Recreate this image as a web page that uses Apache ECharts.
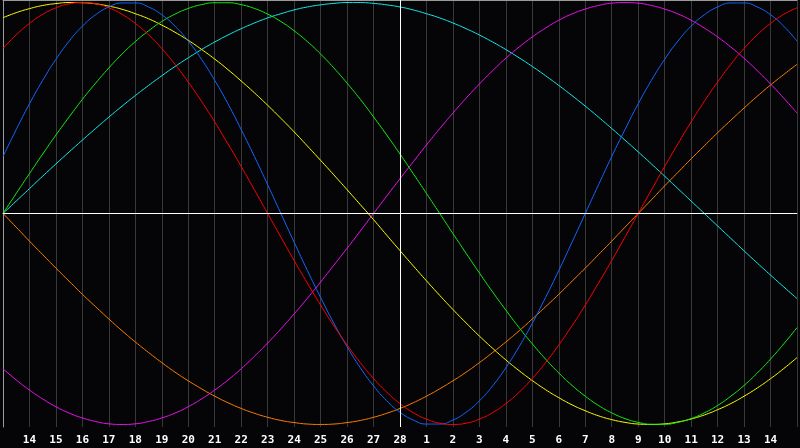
<!DOCTYPE html>
<html>
<head>
<meta charset="utf-8">
<script src="https://cdn.jsdelivr.net/npm/echarts@6/dist/echarts.min.js"></script>
<style>
html,body{margin:0;padding:0;background:#050508;}
#c{width:800px;height:448px;}
</style>
</head>
<body>
<div id="c"></div>
<script>
// Day labels along the x axis (index 0 and 30 are the plot edges, not labelled)
var days = ['13','14','15','16','17','18','19','20','21','22','23','24','25','26','27','28',
            '1','2','3','4','5','6','7','8','9','10','11','12','13','14','15'];
var todayIndex = 15;
var step = 0.5; // values below are read every half day, starting at the left edge

// Cycle values (percent)
var physical = [27.0,39.8,52.0,63.1,73.1,81.7,88.8,94.2,97.9,99.8,99.8,97.9,94.2,88.8,81.7,73.1,
  63.1,52.0,39.8,27.0,13.6,0,-13.6,-27.0,-39.8,-52.0,-63.1,-73.1,-81.7,-88.8,-94.2,-97.9,
  -99.8,-99.8,-97.9,-94.2,-88.8,-81.7,-73.1,-63.1,-52.0,-39.8,-27.0,-13.6,0,13.6,27.0,39.8,
  52.0,63.1,73.1,81.7,88.8,94.2,97.9,99.8,99.8,97.9,94.2,88.8,81.7];
var emotional = [78.2,84.7,90.1,94.4,97.5,99.4,100,99.4,97.5,94.4,90.1,84.7,78.2,70.7,62.3,53.2,
  43.4,33.0,22.3,11.2,0,-11.2,-22.3,-33.0,-43.4,-53.2,-62.3,-70.7,-78.2,-84.7,-90.1,-94.4,
  -97.5,-99.4,-100,-99.4,-97.5,-94.4,-90.1,-84.7,-78.2,-70.7,-62.3,-53.2,-43.4,-33.0,-22.3,-11.2,
  0,11.2,22.3,33.0,43.4,53.2,62.3,70.7,78.2,84.7,90.1,94.4,97.5];
var intellectual = [0,9.5,18.9,28.2,37.2,45.8,54.1,61.8,69.0,75.6,81.5,86.6,91.0,94.5,97.2,99.0,
  99.9,99.9,99.0,97.2,94.5,91.0,86.6,81.5,75.6,69.0,61.8,54.1,45.8,37.2,28.2,18.9,
  9.5,0,-9.5,-18.9,-28.2,-37.2,-45.8,-54.1,-61.8,-69.0,-75.6,-81.5,-86.6,-91.0,-94.5,-97.2,
  -99.0,-99.9,-99.9,-99.0,-97.2,-94.5,-91.0,-86.6,-81.5,-75.6,-69.0,-61.8,-54.1];
var intuitive = [-73.6,-78.9,-83.7,-87.9,-91.6,-94.6,-96.9,-98.6,-99.7,-100,-99.7,-98.6,-96.9,-94.6,-91.6,-87.9,
  -83.7,-78.9,-73.6,-67.7,-61.4,-54.7,-47.6,-40.2,-32.5,-24.5,-16.5,-8.3,0,8.3,16.5,24.5,
  32.5,40.2,47.6,54.7,61.4,67.7,73.6,78.9,83.7,87.9,91.6,94.6,96.9,98.6,99.7,100,
  99.7,98.6,96.9,94.6,91.6,87.9,83.7,78.9,73.6,67.7,61.4,54.7,47.6];
var aesthetic = [92.8,95.2,97.1,98.6,99.5,100.0,99.9,99.4,98.3,96.8,94.7,92.3,89.3,85.9,82.1,77.8,
  73.2,68.2,62.8,57.2,51.3,45.1,38.7,32.0,25.2,18.3,11.3,4.2,-2.9,-10.3,-17.6,-24.8,
  -31.9,-38.8,-45.5,-51.9,-58.1,-63.9,-69.4,-74.5,-79.2,-83.5,-87.3,-90.7,-93.5,-95.9,-97.7,-99.0,
  -99.8,-100.0,-99.7,-98.8,-97.4,-95.5,-93.0,-90.1,-86.6,-82.7,-78.3,-73.5,-68.3];
var awareness = [0,-6.5,-13.1,-19.5,-25.9,-32.1,-38.3,-44.2,-50.0,-55.6,-60.9,-65.9,-70.7,-75.2,-79.3,-83.1,
  -86.6,-89.7,-92.4,-94.7,-96.6,-98.1,-99.1,-99.8,-100,-99.8,-99.1,-98.1,-96.6,-94.7,-92.4,-89.7,
  -86.6,-83.1,-79.3,-75.2,-70.7,-65.9,-60.9,-55.6,-50.0,-44.2,-38.3,-32.1,-25.9,-19.5,-13.1,-6.5,
  0,6.5,13.1,19.5,25.9,32.1,38.3,44.2,50.0,55.6,60.9,65.9,70.7];
var spiritual = [0,5.9,11.8,17.7,23.5,29.2,34.8,40.3,45.7,50.9,55.9,60.7,65.3,69.7,73.8,77.7,
  81.3,84.6,87.6,90.3,92.7,94.7,96.5,97.9,98.9,99.6,100.0,100.0,99.6,98.9,97.9,96.5,
  94.7,92.7,90.3,87.6,84.6,81.3,77.7,73.8,69.7,65.3,60.7,55.9,50.9,45.7,40.3,34.8,
  29.2,23.5,17.7,11.8,5.9,0,-5.9,-11.8,-17.7,-23.5,-29.2,-34.8,-40.3];

var seriesDefs = [
  {name:'Awareness', data:awareness, color:'#ff8000'},
  {name:'Spiritual', data:spiritual, color:'#11eeee'},
  {name:'Intuitive', data:intuitive, color:'#ee11ee'},
  {name:'Aesthetic', data:aesthetic, color:'#ffff00'},
  {name:'Intellectual', data:intellectual, color:'#11ee11'},
  {name:'Physical', data:physical, color:'#1166ff'},
  {name:'Emotional', data:emotional, color:'#ff0000'}
];

var series = seriesDefs.map(function(s){
  return {
    name: s.name, type:'line', smooth:true, showSymbol:false, silent:true,
    data: s.data.map(function(v, k){ return [k*step, v]; }),
    lineStyle:{color:s.color, width:1}, itemStyle:{color:s.color}
  };
});
series.push({
  type:'line', data:[], silent:true,
  markLine:{
    silent:true, symbol:'none', label:{show:false},
    lineStyle:{color:'#ffffff', width:1, type:'solid'},
    data:[{yAxis:0},{xAxis:todayIndex}]
  }
});

var chart = echarts.init(document.getElementById('c'), null, {renderer:'canvas'});
chart.setOption({
  backgroundColor:'#050508',
  animation:false,
  grid:{left:0, right:0, top:0, height:427},
  xAxis:[{
    type:'value', min:0, max:days.length-1, interval:1,
    axisLine:{show:true, lineStyle:{color:'#9a9a9a', width:1}},
    axisTick:{show:false},
    axisLabel:{
      color:'#ffffff', fontFamily:'DejaVu Sans Mono', fontWeight:'bold', fontSize:11, margin:8,
      formatter:function(v){ var i=Math.round(v); return (i<=0 || i>=days.length-1) ? '' : days[i]; }
    },
    splitLine:{show:true, lineStyle:{color:'#383838', width:1}}
  },{
    type:'value', min:0, max:days.length-1, interval:1, position:'top',
    axisLine:{show:true, lineStyle:{color:'#9a9a9a', width:1}},
    axisTick:{show:false}, axisLabel:{show:false}, splitLine:{show:false}
  }],
  yAxis:{
    type:'value', min:-101.2, max:101.2,
    axisLine:{show:true, lineStyle:{color:'#9a9a9a', width:1}},
    axisTick:{show:false}, axisLabel:{show:false}, splitLine:{show:false}
  },
  series:series
});
</script>
</body>
</html>
